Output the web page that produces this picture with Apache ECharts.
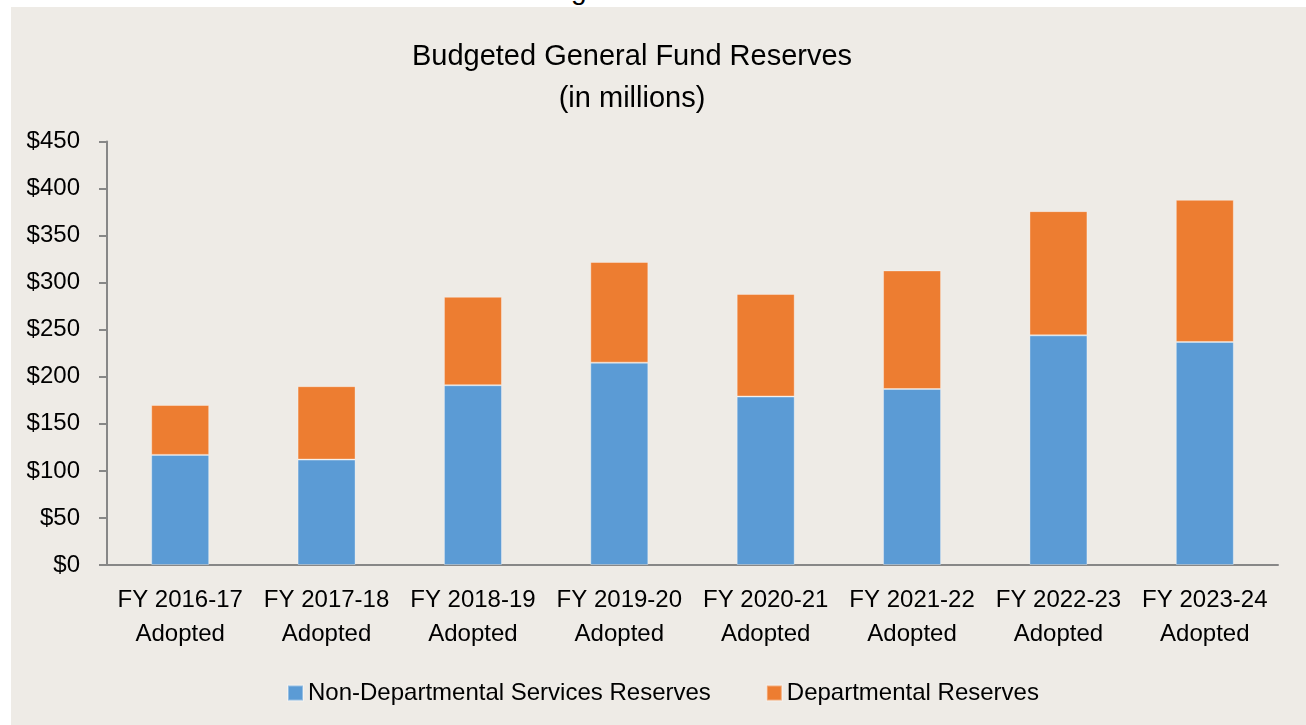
<!DOCTYPE html>
<html>
<head>
<meta charset="utf-8">
<script src="https://cdn.jsdelivr.net/npm/echarts@6/dist/echarts.min.js"></script>
<style>
	html, body { margin:0; padding:0; background:#ffffff; width:1306px; height:725px; overflow:hidden; }
	#strip { position:absolute; left:0; top:0; width:1306px; height:7px; overflow:hidden; }
	#strip span { position:absolute; left:571px; top:-24px; font-family:'Liberation Sans', Arial, sans-serif; font-size:28px; line-height:28px; color:#000; }
	#bar { position:absolute; left:11px; top:7px; width:1295px; height:718px; background:#EEEBE6; }
</style>
</head>
<body>
<div id="strip"><span>g</span></div>
<div id="bar"></div>
<script>
var categories = ['FY 2016-17\nAdopted', 'FY 2017-18\nAdopted', 'FY 2018-19\nAdopted', 'FY 2019-20\nAdopted',
	'FY 2020-21\nAdopted', 'FY 2021-22\nAdopted', 'FY 2022-23\nAdopted', 'FY 2023-24\nAdopted'];
var nonDepartmental = [117, 112, 191, 215, 179, 187, 244, 237];
var departmental = [53, 78, 94, 107, 109, 126, 132, 151];
var yTicks = [0, 50, 100, 150, 200, 250, 300, 350, 400, 450];

var FONT = "'Liberation Sans', Arial, sans-serif";

var chart = echarts.init(document.getElementById('bar'));

var option = {
	animation:false,
	title:{
		text:'Budgeted General Fund Reserves\n(in millions)',
		left:616,
		textAlign:'center',
		top:24,
		textStyle:{
			fontFamily:FONT,
			fontSize:29,
			fontWeight:'normal',
			color:'#000',
			lineHeight:42
		}
	},
	legend:{
		left:271,
		top:669,
		itemWidth:15,
		itemHeight:15,
		itemGap:55,
		icon:'rect',
		textStyle:{
			fontFamily:FONT,
			fontSize:24,
			color:'#000'
		},
		data:['Non-Departmental Services Reserves', 'Departmental Reserves']
	},
	grid:{
		left:96,
		right:28,
		top:134.5,
		bottom:160
	},
	xAxis:{
		type:'category',
		data:categories,
		axisLine:{ lineStyle:{ color:'#878787', width:2 } },
		axisTick:{ show:false },
		axisLabel:{
			margin:18,
			interval:0,
			fontFamily:FONT,
			fontSize:24,
			lineHeight:34,
			color:'#000'
		}
	},
	yAxis:{
		type:'value',
		min:yTicks[0],
		max:yTicks[yTicks.length - 1],
		interval:yTicks[1] - yTicks[0],
		splitLine:{ show:false },
		axisLine:{ show:true, lineStyle:{ color:'#878787', width:2 } },
		axisTick:{ show:true, length:8, lineStyle:{ color:'#878787', width:2 } },
		axisLabel:{
			margin:27,
			fontFamily:FONT,
			fontSize:24,
			color:'#000',
			formatter:function (v) { return '$' + v; }
		}
	},
	series:[{
		name:'Non-Departmental Services Reserves',
		type:'bar',
		stack:'total',
		barWidth:58,
		itemStyle:{ color:'#5B9BD5', borderColor:'rgba(255,255,255,0.35)', borderWidth:1 },
		data:nonDepartmental
	}, {
		name:'Departmental Reserves',
		type:'bar',
		stack:'total',
		barWidth:58,
		itemStyle:{ color:'#ED7D31', borderColor:'rgba(255,255,255,0.35)', borderWidth:1 },
		data:departmental
	}]
};

chart.setOption(option);
</script>
</body>
</html>
